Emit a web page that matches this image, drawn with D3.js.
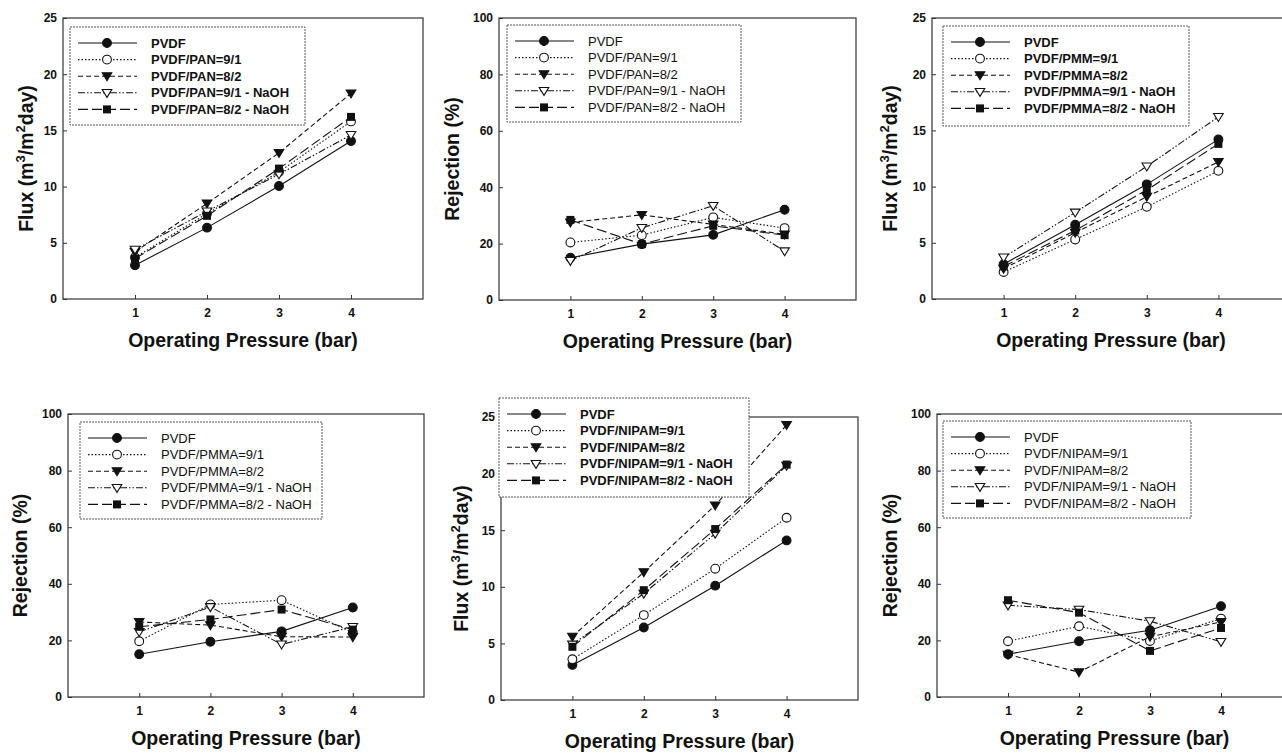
<!DOCTYPE html>
<html>
<head>
<meta charset="utf-8">
<script src="https://cdn.jsdelivr.net/npm/d3@7"></script>
<style>
  body { margin: 0; background: #fff; }
  svg { display: block; font-family: "Liberation Sans", Arial, sans-serif; }
</style>
</head>
<body>
<svg id="chart" width="1282" height="755"></svg>
<script>
// operating pressure (bar)
var pressure = [1, 2, 3, 4];
var fluxTicks = [0, 5, 10, 15, 20, 25];
var rejTicks = [0, 20, 40, 60, 80, 100];

var namesPAN = ["PVDF", "PVDF/PAN=9/1", "PVDF/PAN=8/2", "PVDF/PAN=9/1 - NaOH", "PVDF/PAN=8/2 - NaOH"];
var namesPMM = ["PVDF", "PVDF/PMM=9/1", "PVDF/PMMA=8/2", "PVDF/PMMA=9/1 - NaOH", "PVDF/PMMA=8/2 - NaOH"];
var namesPMMA = ["PVDF", "PVDF/PMMA=9/1", "PVDF/PMMA=8/2", "PVDF/PMMA=9/1 - NaOH", "PVDF/PMMA=8/2 - NaOH"];
var namesNIPAM = ["PVDF", "PVDF/NIPAM=9/1", "PVDF/NIPAM=8/2", "PVDF/NIPAM=9/1 - NaOH", "PVDF/NIPAM=8/2 - NaOH"];

// one row per series, same order as the names
var fluxPAN = [
  [3.0, 6.35, 10.05, 14.05],
  [3.7, 7.6, 11.3, 15.8],
  [4.2, 8.5, 13.0, 18.3],
  [4.4, 7.8, 11.1, 14.6],
  [3.6, 7.4, 11.6, 16.2]
];
var rejPAN = [
  [15.0, 19.8, 23.1, 32.0],
  [20.4, 23.0, 29.3, 25.5],
  [27.5, 30.2, 26.8, 23.3],
  [13.9, 25.6, 33.4, 17.3],
  [28.4, 19.8, 26.3, 23.0]
];
var fluxPMMA = [
  [3.1, 6.6, 10.2, 14.2],
  [2.4, 5.3, 8.2, 11.4],
  [2.7, 5.9, 9.1, 12.2],
  [3.7, 7.7, 11.8, 16.2],
  [2.9, 6.1, 9.7, 13.8]
];
var rejPMMA = [
  [15.1, 19.5, 23.2, 31.6],
  [19.7, 32.7, 34.2, 22.8],
  [26.5, 25.4, 21.3, 21.2],
  [23.0, 31.8, 18.6, 24.8],
  [24.8, 27.4, 30.9, 23.8]
];
var fluxNIPAM = [
  [3.1, 6.4, 10.1, 14.1],
  [3.6, 7.5, 11.6, 16.1],
  [5.6, 11.3, 17.2, 24.3],
  [4.9, 9.4, 14.7, 20.7],
  [4.7, 9.7, 15.1, 20.8]
];
var rejNIPAM = [
  [15.1, 19.7, 23.6, 32.1],
  [19.7, 25.0, 19.8, 27.7],
  [15.0, 8.8, 21.3, 26.5],
  [32.4, 30.9, 26.8, 19.5],
  [34.2, 29.8, 16.3, 24.4]
];

// line / marker style per series
var dashes = [null, "1.5,2", "5,3", "7,2,1.5,2,1.5,2", "10,4"];
var markers = ["circle", "ocircle", "tri", "otri", "square"];

var panels = [
  {values: fluxPAN, names: namesPAN, flux: true, box: [63, 423, 18, 299], leg: [70, 27, 235, 98], bold: true, ylx: -30},
  {values: rejPAN, names: namesPAN, flux: false, box: [499, 856, 18, 300], leg: [507, 25, 234, 97], bold: false, ylx: -40},
  {values: fluxPMMA, names: namesPMM, flux: true, box: [932, 1290, 18, 299], leg: [943, 26, 246, 100], bold: true, ylx: -35},
  {values: rejPMMA, names: namesPMMA, flux: false, box: [68, 424, 414, 697], leg: [80, 422, 242, 97], bold: false, ylx: -41},
  {values: fluxNIPAM, names: namesNIPAM, flux: true, box: [501, 858, 417, 700], leg: [499, 398, 250, 99], bold: true, ylx: -33},
  {values: rejNIPAM, names: namesNIPAM, flux: false, box: [937, 1292, 414, 697], leg: [943, 421, 248, 97], bold: false, ylx: -40}
];

var svg = d3.select("#chart");
var ink = "#111";

function drawMarker(g, type, cx, cy) {
  if (type === "circle" || type === "ocircle") {
    g.append("circle").attr("cx", cx).attr("cy", cy).attr("r", 4.4)
      .attr("fill", type === "circle" ? ink : "#fff").attr("stroke", ink).attr("stroke-width", 1.1);
  } else if (type === "tri" || type === "otri") {
    var s = 4.8;
    g.append("path")
      .attr("d", "M" + (cx - s) + "," + (cy - s * 0.7) + "L" + (cx + s) + "," + (cy - s * 0.7) + "L" + cx + "," + (cy + s * 0.95) + "Z")
      .attr("fill", type === "tri" ? ink : "#fff").attr("stroke", ink).attr("stroke-width", 1.1);
  } else {
    g.append("rect").attr("x", cx - 4).attr("y", cy - 4).attr("width", 8).attr("height", 8)
      .attr("fill", ink);
  }
}

panels.forEach(function(p) {
  var g = svg.append("g");
  var x = d3.scaleLinear().domain([0, 5]).range([p.box[0], p.box[1]]);
  var y = d3.scaleLinear().domain([0, p.flux ? 25 : 100]).range([p.box[3], p.box[2]]);

  // axes with inward ticks
  var xa = g.append("g").attr("transform", "translate(0," + p.box[3] + ")")
    .call(d3.axisBottom(x).tickValues(pressure).tickSizeInner(-4).tickSizeOuter(0).tickPadding(9).tickFormat(d3.format("d")));
  var ya = g.append("g").attr("transform", "translate(" + p.box[0] + ",0)")
    .call(d3.axisLeft(y).tickValues(p.flux ? fluxTicks : rejTicks).tickSizeInner(-4).tickSizeOuter(0).tickPadding(6));
  [xa, ya].forEach(function(a) {
    a.select(".domain").remove();
    a.selectAll("line").attr("stroke", "#333");
    a.selectAll("text").attr("font-size", 12).attr("font-weight", "bold").attr("fill", ink)
      .attr("font-family", "Liberation Sans, Arial, sans-serif");
  });

  // frame
  g.append("rect").attr("x", p.box[0]).attr("y", p.box[2])
    .attr("width", p.box[1] - p.box[0]).attr("height", p.box[3] - p.box[2])
    .attr("fill", "none").attr("stroke", "#333").attr("stroke-width", 1.2);

  var line = d3.line().x(function(d, i) { return x(pressure[i]); }).y(function(d) { return y(d); });

  p.values.forEach(function(vals, k) {
    g.append("path").datum(vals).attr("d", line)
      .attr("fill", "none").attr("stroke", ink).attr("stroke-width", 1.1)
      .attr("stroke-dasharray", dashes[k]);
  });
  p.values.forEach(function(vals, k) {
    vals.forEach(function(v, i) { drawMarker(g, markers[k], x(pressure[i]), y(v)); });
  });

  // axis titles
  g.append("text").attr("x", (p.box[0] + p.box[1]) / 2).attr("y", p.box[3] + 48)
    .attr("text-anchor", "middle").attr("font-size", 19.5).attr("font-weight", "bold").attr("fill", ink)
    .text("Operating Pressure (bar)");

  var yl = g.append("text")
    .attr("transform", "translate(" + (p.box[0] + p.ylx) + "," + ((p.box[2] + p.box[3]) / 2) + ") rotate(-90)")
    .attr("text-anchor", "middle").attr("font-size", 19.5).attr("font-weight", "bold").attr("fill", ink);
  if (p.flux) {
    yl.append("tspan").text("Flux (m");
    yl.append("tspan").attr("font-size", 13).attr("dy", -8).text("3");
    yl.append("tspan").attr("dy", 8).text("/m");
    yl.append("tspan").attr("font-size", 13).attr("dy", -8).text("2");
    yl.append("tspan").attr("dy", 8).text("day)");
  } else {
    yl.text("Rejection (%)");
  }

  // legend
  var L = p.leg;
  var lg = g.append("g");
  lg.append("rect").attr("x", L[0]).attr("y", L[1]).attr("width", L[2]).attr("height", L[3])
    .attr("fill", "#fff").attr("stroke", "#555").attr("stroke-width", 1).attr("stroke-dasharray", "2,1");
  p.names.forEach(function(name, k) {
    var ry = L[1] + 16 + k * 16.6;
    lg.append("line").attr("x1", L[0] + 8).attr("x2", L[0] + 67).attr("y1", ry).attr("y2", ry)
      .attr("stroke", ink).attr("stroke-width", 1.1).attr("stroke-dasharray", dashes[k]);
    drawMarker(lg, markers[k], L[0] + 37, ry);
    lg.append("text").attr("x", L[0] + 81).attr("y", ry).attr("dy", "0.36em")
      .attr("font-size", 13).attr("font-weight", p.bold ? "bold" : "normal")
      .attr("fill", ink).text(name);
  });
});
</script>
</body>
</html>
